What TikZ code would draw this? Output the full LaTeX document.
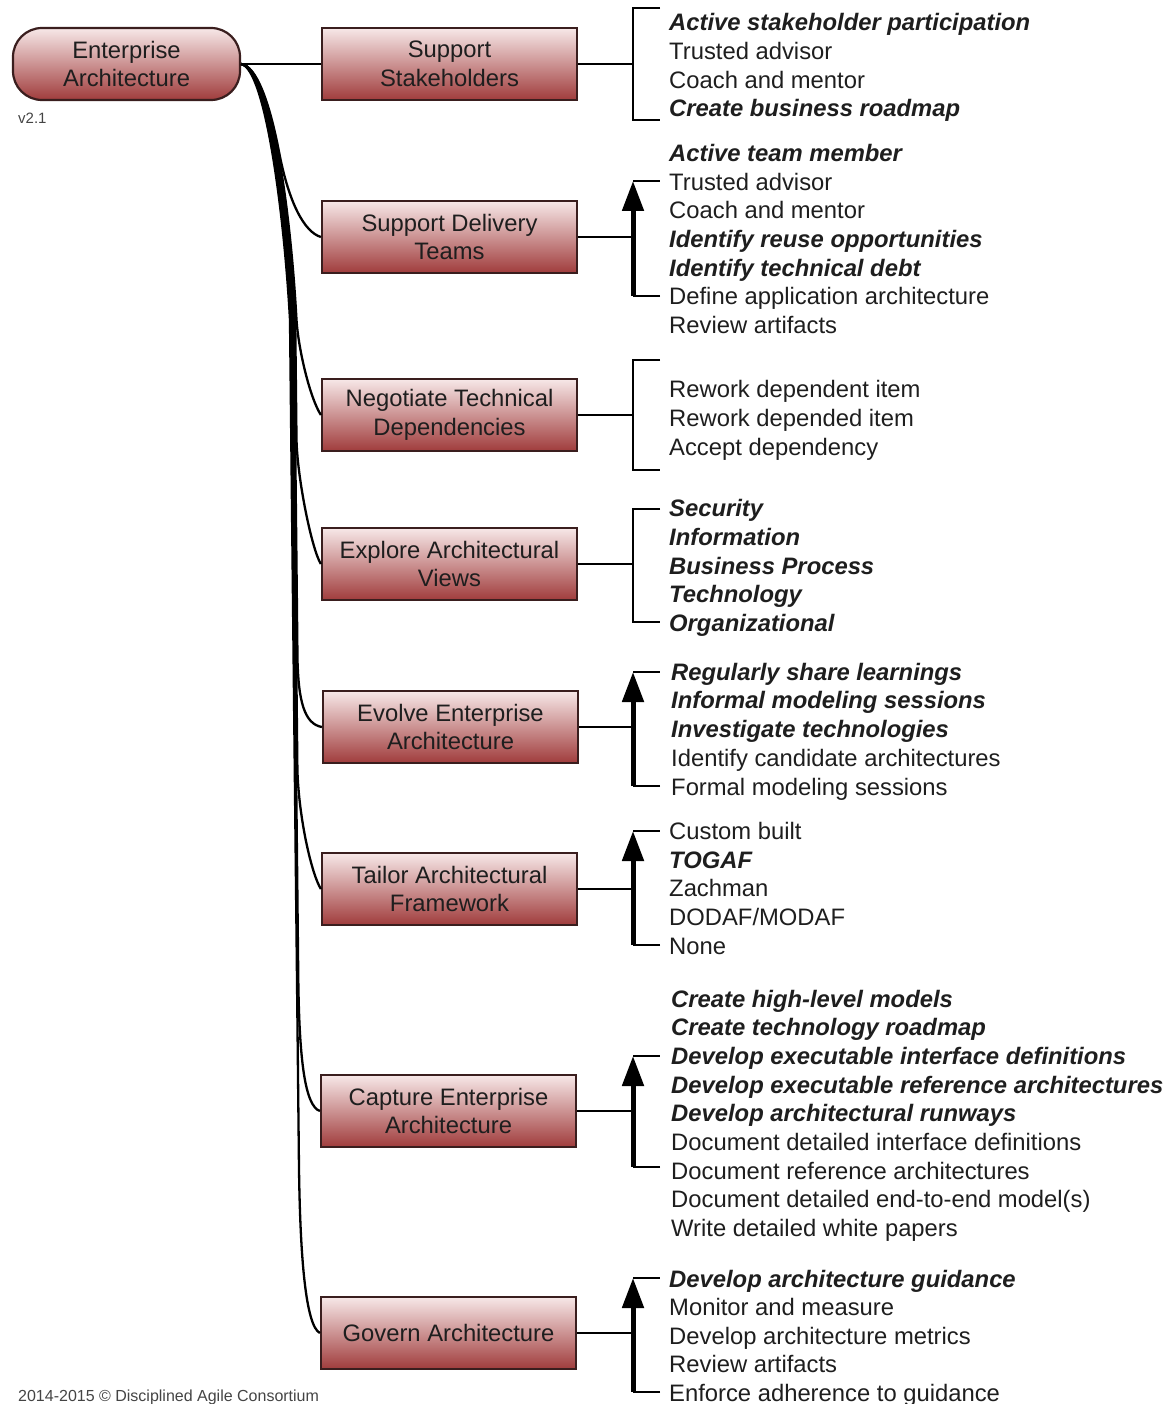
\documentclass[tikz,border=0pt]{standalone}
\usepackage{fontspec}
\setmainfont{Liberation Sans}
\usetikzlibrary{arrows.meta}
\definecolor{boxtop}{HTML}{F7E8E8}
\definecolor{boxbot}{HTML}{A03C3C}
\definecolor{boxline}{HTML}{3A1E1E}
\definecolor{ink}{HTML}{1E1E1E}
\definecolor{note}{HTML}{444444}

\begin{document}
\begin{tikzpicture}[x=1pt,y=-1pt,
  txt/.style={font=\fontsize{23.8}{28.7}\selectfont, text=ink},
  task/.style={txt, draw=boxline, line width=2.2pt, top color=boxtop, bottom color=boxbot,
    minimum width=255pt, minimum height=72pt, align=center, inner sep=0pt},
  rootbox/.style={task, rounded corners=29pt, minimum width=227pt},
  item/.style={txt, anchor=base west, inner sep=0pt},
  key/.style={item, font=\fontsize{23.8}{28.7}\selectfont\bfseries\itshape},
  small/.style={anchor=base west, inner sep=0pt, text=note},
  link/.style={draw=black, line width=2pt},
  curve/.style={draw=black, line width=2.3pt},
  brk/.style={draw=black, line width=2pt},
  flow/.style={draw=black, line width=5pt, -{Triangle[length=30pt,width=21pt]}}
]
\useasboundingbox (0,0) rectangle (1168,1404);

% root and practice boxes
\node[rootbox] (root) at (126.5,64) {Enterprise\\Architecture};
\node[small, font=\fontsize{15}{18}\selectfont] (ver) at (18,124) {v2.1};
\node[small, font=\fontsize{16}{19}\selectfont] (copy) at (18,1401) {2014-2015 \textcopyright{} Disciplined Agile Consortium};

\node[task] (t1) at (449.5,64)   {Support\\Stakeholders};
\node[task] (t2) at (449.5,237)  {Support Delivery\\Teams};
\node[task] (t3) at (449.5,415)  {Negotiate Technical\\Dependencies};
\node[task] (t4) at (449.5,564)  {Explore Architectural\\Views};
\node[task] (t5) at (450.5,727)  {Evolve Enterprise\\Architecture};
\node[task] (t6) at (449.5,889)  {Tailor Architectural\\Framework};
\node[task] (t7) at (448.5,1111) {Capture Enterprise\\Architecture};
\node[task] (t8) at (448.5,1333) {Govern Architecture};

% root to practices: a bundled spine that peels off into each box
\draw[link] (root.east) -- (t1.west);
\draw[curve] (root.east) .. controls (256.5,66) and (269.5,102.5) .. (279.1,152.3)
  .. controls (288.7,202) and (304,232) .. (t2.west);
\foreach \t/\xs/\ys/\d/\ax/\ay/\bx/\by in {
    t3/290/320/6.5/298.5/350/310/398,
    t4/291.3/440/5.2/297.5/480/312/550,
    t5/293.6/660/3.9/298.5/700/304/724,
    t6/294.8/770/2.6/298.9/820/312/875,
    t7/297/980/1.3/299.3/1060/305/1106,
    t8/298.9/1160/0/299.9/1260/306/1326}
  \draw[curve] (root.east) .. controls (265+\d,68) and (284+\d,210) .. (290+\d,320)
    -- (\xs+\d,\ys) .. controls (\ax,\ay) and (\bx,\by) .. (\t.west);

% practice to option brackets
\coordinate (j1) at (633,64);
\coordinate (j2) at (633,237);
\coordinate (j3) at (633,415);
\coordinate (j4) at (633,564);
\coordinate (j5) at (633,727);
\coordinate (j6) at (633,889);
\coordinate (j7) at (633,1111);
\coordinate (j8) at (633,1333);
\foreach \i in {1,...,8} \draw[link] (t\i.east) -- (j\i);

% unordered brackets
\draw[brk] (660,8) -- (633,8) -- (633,120) -- (660,120);
\draw[brk] (660,360) -- (633,360) -- (633,470) -- (660,470);
\draw[brk] (660,509) -- (633,509) -- (633,622) -- (660,622);

% ordered brackets (preference rises upward)
\foreach \lo/\hi in {296/181, 786/672, 945/831, 1167/1056, 1392/1278} {
  \draw[brk] (660,\lo) -- (633,\lo);
  \draw[flow] (633,\lo) -- (633,\hi);
  \draw[brk] (633,\hi) -- (660,\hi);
}

% Support Stakeholders
\node[key]  (a1) at (669,30.5)  {Active stakeholder participation};
\node[item] (a2) at (669,59.5)  {Trusted advisor};
\node[item] (a3) at (669,88.5)  {Coach and mentor};
\node[key]  (a4) at (669,116.5) {Create business roadmap};

% Support Delivery Teams
\node[key]  (b1) at (669,161.5) {Active team member};
\node[item] (b2) at (669,190.5) {Trusted advisor};
\node[item] (b3) at (669,218.5) {Coach and mentor};
\node[key]  (b4) at (669,247.5) {Identify reuse opportunities};
\node[key]  (b5) at (669,276.5) {Identify technical debt};
\node[item] (b6) at (669,304.5) {Define application architecture};
\node[item] (b7) at (669,333.5) {Review artifacts};

% Negotiate Technical Dependencies
\node[item] (c1) at (669,397.5) {Rework dependent item};
\node[item] (c2) at (669,426.5) {Rework depended item};
\node[item] (c3) at (669,455.5) {Accept dependency};

% Explore Architectural Views
\node[key] (d1) at (669,516.5) {Security};
\node[key] (d2) at (669,545.5) {Information};
\node[key] (d3) at (669,574.5) {Business Process};
\node[key] (d4) at (669,602.5) {Technology};
\node[key] (d5) at (669,631.5) {Organizational};

% Evolve Enterprise Architecture
\node[key]  (e1) at (671,680.5) {Regularly share learnings};
\node[key]  (e2) at (671,708.5) {Informal modeling sessions};
\node[key]  (e3) at (671,737.5) {Investigate technologies};
\node[item] (e4) at (671,766.5) {Identify candidate architectures};
\node[item] (e5) at (671,795.5) {Formal modeling sessions};

% Tailor Architectural Framework
\node[item] (f1) at (669,839.5) {Custom built};
\node[key]  (f2) at (669,868.5) {TOGAF};
\node[item] (f3) at (669,896.5) {Zachman};
\node[item] (f4) at (669,925.5) {DODAF/MODAF};
\node[item] (f5) at (669,954.5) {None};

% Capture Enterprise Architecture
\node[key]  (g1) at (671,1007.5) {Create high-level models};
\node[key]  (g2) at (671,1035.5) {Create technology roadmap};
\node[key]  (g3) at (671,1064.5) {Develop executable interface definitions};
\node[key]  (g4) at (671,1093.5) {Develop executable reference architectures};
\node[key]  (g5) at (671,1121.5) {Develop architectural runways};
\node[item] (g6) at (671,1150.5) {Document detailed interface definitions};
\node[item] (g7) at (671,1179.5) {Document reference architectures};
\node[item] (g8) at (671,1207.5) {Document detailed end-to-end model(s)};
\node[item] (g9) at (671,1236.5) {Write detailed white papers};

% Govern Architecture
\node[key]  (h1) at (669,1287.5) {Develop architecture guidance};
\node[item] (h2) at (669,1315.5) {Monitor and measure};
\node[item] (h3) at (669,1344.5) {Develop architecture metrics};
\node[item] (h4) at (669,1372.5) {Review artifacts};
\node[item] (h5) at (669,1401.5) {Enforce adherence to guidance};
\end{tikzpicture}
\end{document}
